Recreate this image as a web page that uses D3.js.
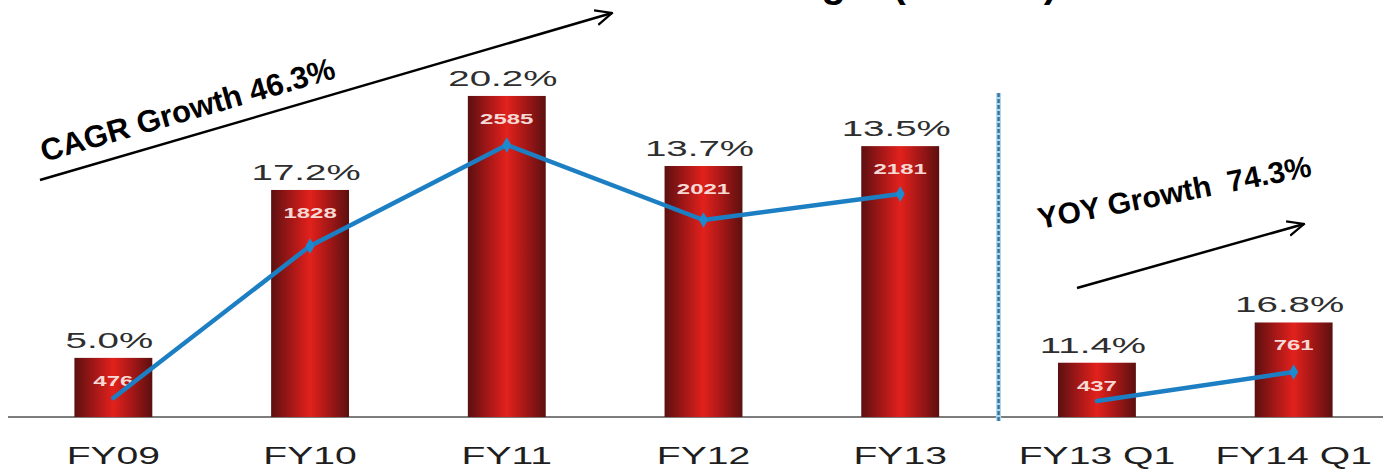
<!DOCTYPE html>
<html>
<head>
<meta charset="utf-8">
<script src="https://cdn.jsdelivr.net/npm/d3@7"></script>
<style>
  html, body { margin: 0; padding: 0; background: #fff; }
  svg { display: block; }
  text { font-family: "Liberation Sans", Arial, sans-serif; }
</style>
</head>
<body>
<svg id="chart" width="1383" height="471"></svg>
<script>
// Categories: five fiscal years, then two first quarters
const categories = ["FY09", "FY10", "FY11", "FY12", "FY13", "FY13 Q1", "FY14 Q1"];
// EBITDA, Rs. Mn
const ebitda = [476, 1828, 2585, 2021, 2181, 437, 761];
// Margin labels shown above each bar
const marginLabels = ["5.0%", "17.2%", "20.2%", "13.7%", "13.5%", "11.4%", "16.8%"];
// Trend line, same units as the bars; annual run and quarterly run drawn separately
const trendAnnual = [153, 1377, 2190, 1586, 1795];
const trendQuarter = [129, 362];
const annualCount = 5;

const svg = d3.select("#chart");
const W = 1383, baseY = 417;

const x = d3.scaleBand().domain(categories).range([15, 1392])
  .paddingInner(0.604).paddingOuter(0.302);
const y = d3.scaleLinear().domain([0, 3000]).range([baseY, baseY - 3000 * 0.1242]);

// Bar fill: dark edges, bright red core
const defs = svg.append("defs");
const grad = defs.append("linearGradient").attr("id", "barGrad")
  .attr("x1", "0%").attr("x2", "100%").attr("y1", "0%").attr("y2", "0%");
[["0%", "#5c1010"], ["22%", "#9a1616"], ["50%", "#e2211c"], ["78%", "#9a1616"], ["100%", "#5c1010"]]
  .forEach(([o, c]) => grad.append("stop").attr("offset", o).attr("stop-color", c));

// Open chevron arrowhead
defs.append("marker").attr("id", "chev")
  .attr("viewBox", "0 0 12 12").attr("refX", 11).attr("refY", 6)
  .attr("markerWidth", 18).attr("markerHeight", 18).attr("markerUnits", "userSpaceOnUse")
  .attr("orient", "auto")
  .append("path").attr("d", "M0,1 L11,6 L0,11")
  .attr("fill", "none").attr("stroke", "#000").attr("stroke-width", 1.5);

// Title (runs off the top edge)
svg.append("text")
  .attr("x", 1057).attr("y", -3)
  .attr("text-anchor", "end")
  .attr("font-size", 40).attr("font-weight", "bold").attr("fill", "#000")
  .text("EBITDA & Margin (INR Mn)");

// Baseline
svg.append("line")
  .attr("x1", 8).attr("x2", W).attr("y1", baseY).attr("y2", baseY)
  .attr("stroke", "#7d7d7d").attr("stroke-width", 2.2);

// Separator between annual and quarterly figures
const sepX = (x(categories[annualCount - 1]) + x.bandwidth() + x(categories[annualCount])) / 2;
svg.append("line")
  .attr("x1", sepX).attr("x2", sepX).attr("y1", 93).attr("y2", 421)
  .attr("stroke", "#a9d8f0").attr("stroke-width", 5);
svg.append("line")
  .attr("x1", sepX).attr("x2", sepX).attr("y1", 93).attr("y2", 421)
  .attr("stroke", "#3f6f96").attr("stroke-width", 2.4)
  .attr("stroke-dasharray", "4,2");

// Bars
svg.append("g").selectAll("rect").data(ebitda).join("rect")
  .attr("x", (d, i) => x(categories[i]))
  .attr("y", d => y(d))
  .attr("width", x.bandwidth())
  .attr("height", d => baseY - y(d))
  .attr("fill", "url(#barGrad)");

// Value labels inside the bars
svg.append("g").selectAll("text").data(ebitda).join("text")
  .attr("transform", (d, i) => `translate(${x(categories[i]) + x.bandwidth() / 2},${y(d) + 28}) scale(1.6,1)`)
  .attr("text-anchor", "middle")
  .attr("font-size", 15).attr("font-weight", "bold")
  .attr("fill", "#f6d8d4")
  .text(d => d);

// Margin labels above the bars
svg.append("g").selectAll("text").data(ebitda).join("text")
  .attr("transform", (d, i) => `translate(${x(categories[i]) + x.bandwidth() / 2 - 4},${y(d) - 10}) scale(1.75,1)`)
  .attr("text-anchor", "middle")
  .attr("font-size", 22)
  .attr("fill", "#2e2e2e")
  .text((d, i) => marginLabels[i]);

// Category labels
svg.append("g").selectAll("text").data(categories).join("text")
  .attr("transform", d => `translate(${x(d) + x.bandwidth() / 2},464) scale(1.63,1)`)
  .attr("text-anchor", "middle")
  .attr("font-size", 24)
  .attr("fill", "#1e1e1e")
  .text(d => d);

// Trend lines
const cx = c => x(c) + x.bandwidth() / 2;
const line = d3.line().x(d => d.x).y(d => d.y);
function drawTrend(vals, cats) {
  const pts = vals.map((v, i) => ({ x: cx(cats[i]), y: y(v) }));
  svg.append("path").datum(pts)
    .attr("d", line)
    .attr("fill", "none").attr("stroke", "#1d7fc3")
    .attr("stroke-width", 4.5).attr("stroke-linejoin", "round").attr("stroke-linecap", "round");
  svg.append("g").selectAll("path").data(pts.slice(1)).join("path")
    .attr("d", d3.symbol(d3.symbolDiamond, 70))
    .attr("transform", d => `translate(${d.x},${d.y})`)
    .attr("fill", "#1d8ad0");
}
drawTrend(trendAnnual, categories.slice(0, annualCount));
drawTrend(trendQuarter, categories.slice(annualCount));

// Growth annotations
svg.append("line")
  .attr("x1", 40).attr("y1", 180).attr("x2", 612).attr("y2", 13)
  .attr("stroke", "#000").attr("stroke-width", 2.5)
  .attr("marker-end", "url(#chev)");
svg.append("text")
  .attr("transform", "translate(44,162) rotate(-16)")
  .attr("font-size", 31).attr("font-weight", "bold").attr("fill", "#000")
  .text("CAGR Growth 46.3%");

svg.append("line")
  .attr("x1", 1077).attr("y1", 288).attr("x2", 1304).attr("y2", 224)
  .attr("stroke", "#000").attr("stroke-width", 2.5)
  .attr("marker-end", "url(#chev)");
svg.append("text")
  .attr("transform", "translate(1040,229) rotate(-11)")
  .attr("font-size", 30).attr("font-weight", "bold").attr("fill", "#000")
  .style("white-space", "pre")
  .text("YOY Growth  74.3%");
</script>
</body>
</html>
